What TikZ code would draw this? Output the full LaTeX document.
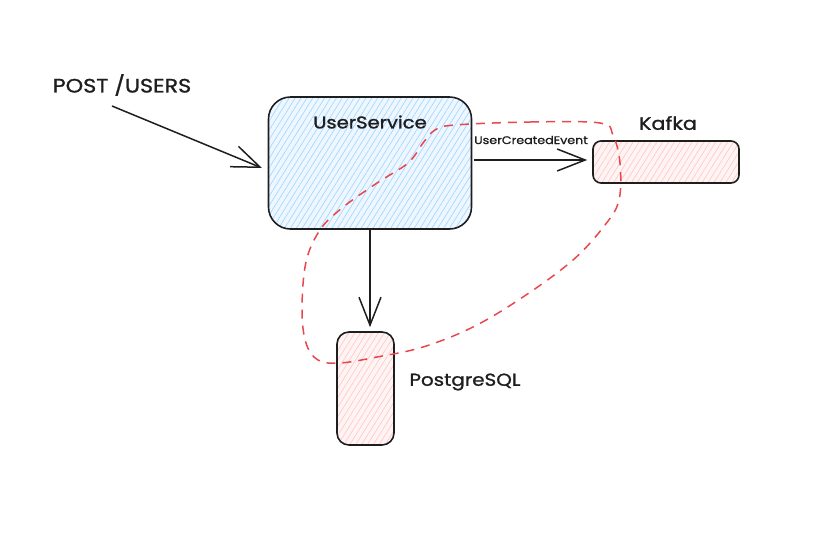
\documentclass[tikz,border=0pt]{standalone}
\usepackage{fontspec}
\setmainfont{Poppins}[FakeStretch=1.15,FakeBold=1.2]
\usetikzlibrary{arrows.meta,patterns.meta}
\definecolor{ink}{HTML}{1E1E1E}
\definecolor{bluebg}{HTML}{EEF7FF}
\definecolor{bluehatch}{HTML}{A5D8FF}
\definecolor{redbg}{HTML}{FFF4F4}
\definecolor{redhatch}{HTML}{FFC9C9}
\definecolor{dashred}{HTML}{E8484D}
\tikzset{
  box/.style={draw=ink, line width=1.6pt, inner sep=0pt},
  bluebox/.style={box, rounded corners=22pt, preaction={fill=bluebg},
    pattern={Lines[angle=58,distance=5pt,line width=0.7pt]}, pattern color=bluehatch},
  redbox/.style={box, preaction={fill=redbg},
    pattern={Lines[angle=58,distance=5pt,line width=0.7pt]}, pattern color=redhatch},
  arr/.style={draw=ink, line width=1.5pt,
    -{Straight Barb[length=28pt,width=22pt,line width=1.5pt]}},
  lbl/.style={text=ink, inner sep=0pt},
  dashloop/.style={draw=dashred, line width=1.5pt, dash pattern=on 9pt off 7pt}
}
\begin{document}
\begin{tikzpicture}[x=1pt,y=-1pt]
\useasboundingbox (0,0) rectangle (827,542);
% boxes
\node[bluebox, minimum width=203pt, minimum height=132pt] (us) at (370,163) {};
\node[redbox, rounded corners=8pt, minimum width=146pt, minimum height=42pt] (kf) at (666,162) {};
\node[redbox, rounded corners=12pt, minimum width=57pt, minimum height=113pt] (pg) at (365.5,388.5) {};
% labels
\node[lbl, font=\fontsize{17}{20}\selectfont] (ustxt) at (370,122) {UserService};
\node[lbl, font=\fontsize{18}{20}\selectfont] (kftxt) at (668,123) {Kafka};
\node[lbl, font=\fontsize{17.3}{20}\selectfont] (pgtxt) at (465,382) {PostgreSQL};
\node[lbl, font=\fontsize{19.4}{22}\selectfont] (posttxt) at (122,85) {POST /USERS};
\node[lbl, font=\fontsize{11}{12}\selectfont] (evtxt) at (531,140) {UserCreatedEvent};
% connectors
\coordinate (p1) at (112,106);
\coordinate (p2) at (262,168);
\draw[arr] (p1) -- (p2);
\draw[arr, shorten >=4pt] (us.south) -- (us.south |- pg.north);
\coordinate (e1) at (474,160);
\draw[arr, shorten >=5pt] (e1) -- (kf.west |- e1);
% dashed loop
\draw[dashloop] plot[smooth cycle, tension=0.6] coordinates {
 (455,125) (530,122) (600,123) (613,135) (620,163) (619,200) (605,225)
 (573,260) (523,297) (473,327) (423,347) (377,357) (340,363) (318,360)
 (306,343) (302,310) (306,262) (320,230) (342,208) (377,183) (408,163)
 (423,143) (435,130)};
\end{tikzpicture}
\end{document}
